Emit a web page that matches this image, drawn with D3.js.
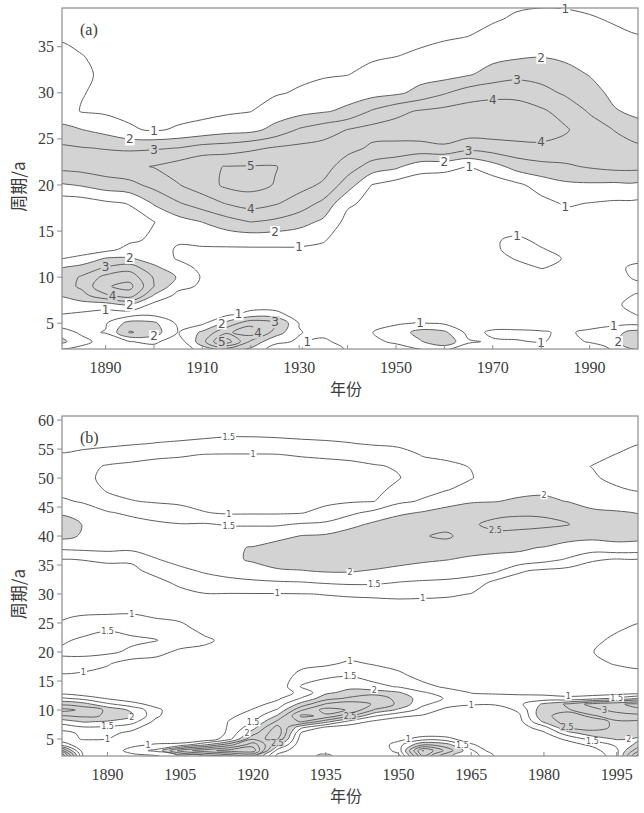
<!DOCTYPE html>
<html>
<head>
<meta charset="utf-8">
<script src="https://cdn.jsdelivr.net/npm/d3@7"></script>
<style>
  body { margin: 0; background: #fff; }
  svg text { font-family: "Liberation Serif", "Times New Roman", serif; fill: #3c3c3c; }
  svg text.clab { font-family: "DejaVu Sans", "Liberation Sans", sans-serif; fill: #555; }
  svg text.cjk { font-family: "Noto Sans CJK SC", sans-serif; }
</style>
</head>
<body>
<svg id="chart" width="644" height="813"></svg>
<script>
// ---- panel (a): wavelet power, period rows x year columns ----
const yearsA = [1880,1885,1890,1895,1900,1905,1910,1915,1920,1925,1930,1935,1940,1945,1950,1955,1960,1965,1970,1975,1980,1985,1990,1995,2000];
const periodsA = [2,3,4,5,6,7,8,9,10,11,12,13,14,16,18,20,22,24,26,28,30,32,34,36,38,40];
const levelsA = [1,2,3,4,5];
const powerA = [
  [0.7,2.4,1.7,0.4,1.05,1.5,2.02,2.3,2.3,1.9,0.95,0.6,0.4,0.3,0.35,1.8,3.3,3.2,2.2,1.6,1.4,1.3,1.2,0.95,0.8,0.7],
  [0.5,1.4,0.8,0.5,0.85,1.6,2.6,3.2,3.1,2.4,1.2,0.65,0.35,0.3,0.45,2.1,3.4,3.05,2.02,0.95,1.05,1.1,1.02,0.85,0.8,0.7],
  [0.4,0.5,1.05,0.9,0.6,1.5,3.8,4.9,4.3,3.1,2.1,0.7,0.4,0.3,0.8,2.5,3.6,2.95,1.65,0.85,0.8,0.9,0.85,0.8,0.75,0.7],
  [0.4,0.97,3.1,2.4,0.5,1.95,4.5,5.3,4.6,3.6,2.1,1.3,0.85,0.6,1.05,2.7,3.8,2.85,1.1,0.8,0.7,0.7,0.7,0.7,0.7,0.7],
  [0.5,1.2,2.5,2.2,0.7,0.7,1.9,3.02,2.9,2.2,1.6,1.6,1.15,0.98,2.1,3.3,4.05,2.9,0.9,0.75,0.7,0.7,0.7,0.7,0.7,0.7],
  [0.4,0.4,0.95,0.8,0.5,0.5,0.7,1.3,1.9,1.5,0.9,0.85,1.15,1.6,2.9,3.95,4.45,3.02,1.1,0.7,0.65,0.65,0.65,0.65,0.65,0.65],
  [1.3,2.6,2.2,0.8,0.5,0.5,0.6,0.85,0.9,0.7,0.6,0.9,1.2,2.02,3.5,4.5,4.9,3.4,1.3,0.75,0.7,0.65,0.65,0.65,0.65,0.65],
  [1.9,5.6,3.8,2.3,0.7,0.5,0.45,0.45,0.45,0.45,0.5,0.9,1.25,2.6,4.05,5.2,5.02,3.5,1.6,0.85,0.7,0.7,0.65,0.65,0.65,0.65],
  [1.6,2.8,4.6,3.7,1.3,0.5,0.45,0.45,0.45,0.45,0.5,0.9,1.3,3.02,4.4,5.35,5.05,3.8,1.7,0.98,0.75,0.7,0.65,0.65,0.65,0.65],
  [0.5,1.2,2.6,3.3,1.3,0.5,0.45,0.45,0.45,0.45,0.5,0.9,1.3,2.8,4.1,4.95,5.05,4.1,2.3,1.45,0.9,0.75,0.7,0.65,0.65,0.65],
  [0.9,0.9,1.05,0.95,0.5,0.45,0.45,0.45,0.45,0.45,0.5,0.9,1.25,2.4,3.55,4.35,4.6,4.25,3.1,1.65,1.1,0.8,0.75,0.7,0.65,0.65],
  [1.8,1.2,0.7,0.45,0.45,0.45,0.45,0.45,0.45,0.45,0.45,0.85,1.05,1.8,2.75,3.85,4.4,4.35,3.55,1.9,1.35,0.9,0.75,0.7,0.65,0.65],
  [0.9,0.6,0.5,0.45,0.45,0.45,0.45,0.45,0.45,0.45,0.45,0.6,0.65,0.7,1.15,2.5,3.5,4.3,4.02,2.2,1.6,0.97,0.8,0.7,0.65,0.65],
  [0.4,0.8,0.98,0.6,0.45,0.45,0.45,0.45,0.45,0.45,0.45,0.5,0.5,0.55,0.75,0.98,2.6,3.85,4.35,3.1,1.6,1.3,0.85,0.7,0.65,0.65],
  [0.5,1.15,1.4,0.9,0.5,0.45,0.45,0.45,0.45,0.45,0.45,0.45,0.45,0.45,0.5,0.55,2.2,3.75,4.4,3.75,1.8,1.45,0.98,0.75,0.7,0.65],
  [0.8,1.9,2.4,1.05,0.5,0.45,0.45,0.45,0.45,0.45,0.45,0.4,0.4,0.4,0.4,0.4,1.4,3.7,4.5,4.1,2.3,1.6,1.15,0.8,0.7,0.65],
  [0.9,2.8,2.2,0.85,0.45,0.45,0.45,0.45,0.45,0.45,0.45,0.4,0.4,0.35,0.3,0.35,1.3,3.85,4.55,4.3,2.9,1.6,1.3,0.93,0.75,0.7],
  [0.5,1.1,0.7,0.5,0.45,0.45,0.45,0.45,0.45,0.45,0.45,0.45,0.45,0.35,0.3,0.3,0.98,3.3,4.6,4.45,3.5,1.9,1.45,1.02,0.75,0.65],
  [0.4,0.9,1.15,0.6,0.45,0.45,0.45,0.45,0.45,0.45,0.75,0.9,0.92,0.5,0.35,0.4,1.6,3.5,4.55,4.5,3.7,2.4,1.7,1.25,0.92,0.75],
  [0.4,0.95,1.2,0.5,0.45,0.45,0.45,0.45,0.45,0.8,1.05,1.2,1.15,0.5,0.5,0.8,2.4,3.7,4.5,4.45,3.7,2.7,1.85,1.4,1.1,0.85],
  [0.4,1.05,1.1,0.5,0.45,0.45,0.45,0.45,0.7,1.02,1.15,1.05,0.85,0.55,0.7,1.4,2.7,3.8,4.4,4.15,3.35,2.6,1.95,1.45,1.15,0.9],
  [0.4,0.8,0.85,0.5,0.45,0.45,0.45,0.45,0.45,0.9,0.97,0.8,0.65,0.6,1.1,1.8,2.85,3.7,4.1,3.65,2.85,2.35,1.8,1.45,1.12,0.9],
  [0.5,1.05,1.2,0.6,0.5,0.5,0.45,0.45,0.45,0.45,0.45,0.5,0.5,0.55,0.97,1.85,3.1,3.6,3.5,2.9,2.4,1.95,1.6,1.3,1.05,0.85],
  [1.05,1.8,1.7,0.7,0.7,0.9,0.85,0.6,0.8,0.85,0.6,0.5,0.5,0.55,0.85,1.8,3.3,3.35,2.98,2.1,1.75,1.52,1.3,1.12,0.95,0.8],
  [1.9,2.9,2.4,0.7,1.05,1.2,1.05,0.85,1.1,1.15,0.85,0.5,0.5,0.55,0.8,1.8,3.3,3.2,2.4,1.75,1.5,1.3,1.15,1.02,0.9,0.8]
];
const labelsA = [
  [1,1900.5,25.8],[2,1899,24.7],[3,1898,23.6],[5,1921.8,22.2],[4,1918.7,17.3],[3,1920,16.0],[2,1922.5,14.9],[1,1930.7,13.5],
  [2,1978.5,33.7],[3,1972.8,31.2],[4,1969,29.3],[4,1980,24.6],[3,1963,24.1],[2,1960,23.0],[1,1966,21.9],
  [1,1983,39.1],[1,1984.7,17.7],[1,1975.8,14.6],
  [2,1894.5,12.1],[3,1891,11.3],[4,1891.2,7.9],[2,1893.7,6.9],[1,1888,6.7],[2,1897.7,3.7],
  [2,1913,5.0],[1,1915.5,5.4],[4,1921.2,4.6],[3,1923,5.0],[5,1913.6,3.2],[2,1917,2.8],
  [1,1932.8,3.9],[1,1955.5,5.0],[1,1979.5,3.4],[1,1992.6,4.3],[2,1997.4,3.7]
];
const xTicksA = [1890,1910,1930,1950,1970,1990];
const xMinorA = [1900,1920,1940,1960,1980];
const yTicksA = [5,10,15,20,25,30,35];

// ---- panel (b) ----
const yearsB = [1880,1885,1890,1895,1900,1905,1910,1915,1920,1925,1930,1935,1940,1945,1950,1955,1960,1965,1970,1975,1980,1985,1990,1995,2000];
const periodsB = [2,3,4,5,6,7,8,9,10,11,12,13,14,16,18,20,22,24,26,28,30,32,34,36,38,40,42,44,46,48,50,52,54,56,58,60,62];
const levelsB = [1,1.5,2,2.5,3,3.5,4,4.5];
const powerB = [
  [5.0,3.45,1.4,0.7,0.8,1.2,1.7,2.45,3.2,2.4,1.6,0.8,0.6, 0.95,1.3,1.6,1.4,1.1,0.95,0.75,0.65,0.7,0.8,0.98,1.6,2.15,2.25,1.95,1.58,1.35,1.25,1.3,1.47,1.65,1.75,1.8,1.8],
  [0.9,0.7,0.6,1.05,1.1,1.45,2.05,2.6,2.9,2.2,1.35,0.6,0.6, 0.9,1.25,1.65,1.6,1.3,1.05,0.75,0.65,0.7,0.8,1.02,1.65,1.95,1.98,1.75,1.45,1.25,1.1,1.15,1.4,1.62,1.75,1.8,1.8],
  [0.4,0.45,0.6,1.02,1.15,1.4,1.95,2.45,2.4,1.6,0.95,0.7,0.6, 0.8,1.05,1.6,1.7,1.45,1.08,0.75,0.65,0.7,0.85,1.08,1.7,1.85,1.8,1.55,1.15,0.95,0.9,0.95,1.3,1.6,1.75,1.8,1.8],
  [0.7,1.3,0.8,0.6,0.85,1.2,1.7,2.1,1.9,1.2,0.7,0.6,0.6, 0.7,0.75,1.4,1.6,1.35,1.1,0.75,0.65,0.7,0.85,1.1,1.65,1.75,1.7,1.4,1.02,0.85,0.8,0.88,1.2,1.55,1.72,1.78,1.8],
  [0.9,1.6,1.1,0.5,0.5,0.6,0.85,1.1,1.15,0.8,0.55,0.55,0.6, 0.65,0.8,1.15,1.52,1.3,0.97,0.7,0.65,0.8,1.2,1.48,1.7,1.72,1.58,1.3,0.95,0.8,0.75,0.82,1.1,1.49,1.7,1.78,1.8],
  [1.55,3.2,1.2,0.5,0.45,0.45,0.5,0.55,0.55,0.5,0.5,0.55,0.6, 0.6,0.65,0.9,1.25,1.15,0.9,0.7,0.8,1.15,1.4,1.65,1.8,1.75,1.52,1.2,0.9,0.75,0.72,0.8,1.05,1.45,1.68,1.75,1.78],
  [2.05,3.8,1.95,0.6,0.5,0.5,0.5,0.5,0.5,0.5,0.5,0.55,0.55, 0.55,0.6,0.85,1.1,0.85,0.7,0.75,0.98,1.3,1.55,1.75,1.88,1.8,1.55,1.02,0.85,0.7,0.68,0.75,0.98,1.4,1.65,1.75,1.78],
  [2.45,4.2,2.8,1.3,1.1,1.05,1.02,0.9,0.6,0.5,0.5,0.55,0.55, 0.55,0.6,0.8,0.85,0.75,0.7,0.8,0.98,1.35,1.7,1.92,1.95,1.85,1.45,0.95,0.8,0.68,0.65,0.72,0.97,1.35,1.62,1.72,1.76],
  [2.8,4.3,3.8,2.95,2.3,1.8,1.45,1.2,1.05,0.8,0.6,0.55,0.55, 0.55,0.6,0.7,0.7,0.65,0.7,0.8,0.98,1.4,1.85,2.05,2.02,1.8,1.45,0.95,0.8,0.68,0.65,0.72,0.97,1.35,1.62,1.72,1.76],
  [0.8,1.3,2.2,3.05,3.4,3.2,2.6,2.05,1.55,1.2,0.9,0.7,0.6, 0.6,0.6,0.6,0.6,0.6,0.7,0.8,0.98,1.45,1.95,2.2,2.2,1.85,1.45,0.95,0.8,0.7,0.65,0.72,0.98,1.38,1.63,1.72,1.76],
  [0.7,0.6,0.6,0.7,0.9,1.6,3.05,3.6,2.95,2.2,1.55,1.15,1.55, 1.2,0.8,0.6,0.6,0.6,0.75,0.85,0.99,1.48,1.98,2.3,2.3,2.02,1.55,0.98,0.82,0.72,0.68,0.75,1.05,1.42,1.65,1.73,1.76],
  [1.2,0.7,0.55,0.55,0.6,0.9,2.2,3.4,3.7,3.05,2.3,1.9,1.75, 1.4,0.9,0.7,0.6,0.6,0.8,0.9,1.01,1.55,2.05,2.35,2.35,2.07,1.6,1.15,0.9,0.75,0.7,0.8,1.1,1.45,1.66,1.74,1.77],
  [0.5,0.5,0.5,0.5,0.55,0.75,1.3,2.6,3.45,3.3,2.6,2.15,1.9, 1.45,1.1,0.7,0.6,0.6,0.75,0.85,1.05,1.6,2.05,2.4,2.45,2.25,1.85,1.4,0.95,0.8,0.75,0.85,1.15,1.49,1.67,1.74,1.77],
  [0.6,0.5,0.5,0.5,0.55,0.65,0.9,1.55,2.45,2.95,2.8,2.3,1.6, 1.35,0.95,0.6,0.55,0.55,0.7,0.8,1.1,1.58,1.95,2.35,2.45,2.4,2.1,1.65,0.99,0.85,0.8,0.95,1.25,1.55,1.68,1.75,1.77],
  [0.8,1.2,1.3,0.8,0.55,0.55,0.75,1.1,1.9,2.4,2.35,2.05,1.48, 1.15,0.75,0.55,0.5,0.5,0.7,0.8,1.15,1.49,1.85,2.2,2.45,2.45,2.3,1.9,1.4,1.15,0.97,1.05,1.35,1.58,1.7,1.76,1.78],
  [3.45,4.05,2.45,1.3,0.6,0.55,0.75,0.95,1.3,1.6,1.75,1.55,1.2, 0.75,0.55,0.5,0.5,0.5,0.65,0.8,1.12,1.45,1.75,2.1,2.4,2.48,2.4,2.05,1.55,1.35,1.3,1.38,1.52,1.62,1.7,1.76,1.78],
  [2.05,2.8,2.2,1.2,0.6,0.5,0.5,0.6,0.85,1.2,1.45,1.3,0.9, 0.55,0.5,0.5,0.5,0.5,0.6,0.75,1.1,1.42,1.72,2.02,2.35,2.55,2.4,2.2,1.8,1.48,1.42,1.45,1.55,1.63,1.7,1.76,1.78],
  [1.8,1.6,1.1,0.6,0.5,0.5,0.5,0.5,0.7,1.05,1.2,0.98,0.7, 0.5,0.5,0.5,0.5,0.5,0.6,0.75,0.98,1.35,1.65,1.92,2.2,2.35,2.45,2.3,1.95,1.65,1.48,1.51,1.56,1.63,1.7,1.76,1.78],
  [0.95,0.6,0.5,0.5,0.5,0.5,0.5,0.5,0.7,1.05,1.15,0.95,0.6, 0.5,0.5,0.5,0.5,0.5,0.55,0.65,0.75,0.85,1.6,1.85,2.15,2.4,2.6,2.4,1.98,1.8,1.7,1.65,1.65,1.68,1.72,1.76,1.78],
  [0.5,0.5,0.5,0.5,0.6,0.75,0.85,0.95,1.1,1.4,1.25,0.85,0.6, 0.5,0.5,0.5,0.5,0.5,0.55,0.6,0.7,0.8,1.05,1.9,2.05,2.35,2.62,2.45,2.08,1.85,1.75,1.7,1.7,1.7,1.72,1.76,1.78],
  [0.5,0.5,0.6,0.75,0.9,1.3,2.1,2.45,2.4,2.1,1.2,0.85,0.6, 0.5,0.55,0.6,0.6,0.55,0.55,0.6,0.65,0.75,0.9,1.7,1.98,2.3,2.58,2.45,2.1,1.9,1.8,1.75,1.75,1.75,1.75,1.77,1.78],
  [0.5,0.6,0.8,1.1,1.8,2.55,2.8,2.6,2.45,2.6,1.1,0.8,0.6, 0.55,0.65,0.75,0.7,0.6,0.55,0.6,0.65,0.7,0.82,1.45,1.85,2.15,2.52,2.35,1.98,1.8,1.65,1.6,1.65,1.7,1.73,1.76,1.78],
  [0.6,0.8,1.1,1.7,2.3,2.7,2.6,2.45,2.8,3.2,1.3,0.7,0.55, 0.6,0.85,0.99,0.9,0.75,0.6,0.6,0.65,0.7,0.8,1.05,1.8,2.1,2.2,2.08,1.85,1.7,1.55,1.49,1.58,1.66,1.72,1.75,1.77],
  [1.3,1.4,1.6,2.05,2.2,2.4,2.45,2.7,3.2,3.45,1.6,0.7,0.55, 0.7,1.05,1.15,1.1,0.95,0.7,0.65,0.65,0.7,0.8,0.98,1.9,2.1,2.15,2.05,1.75,1.55,1.4,1.38,1.49,1.6,1.68,1.73,1.76],
  [4.05,3.05,2.2,1.95,2.1,2.2,2.4,2.8,3.45,3.6,2.05,0.7,0.6, 0.85,1.12,1.2,1.18,1.1,0.9,0.7,0.65,0.7,0.8,0.97,1.85,2.1,2.1,1.98,1.7,1.45,1.3,1.25,1.35,1.51,1.62,1.7,1.74]
];
const labelsB = [
  [1.5,1916.3,57.2],[1,1919,54.3],[1,1916.3,43.4],[1.5,1916.3,41.3],[1,1924.5,30.0],
  [2,1979.4,46.8],[2.5,1971.2,41.3],[2,1938.9,33.7],[1.5,1942.7,31.6],[1,1956.8,29.1],
  [1,1895,26.8],[1.5,1891.6,23.4],[1,1884.7,16.2],
  [1,1940,18.1],[1.5,1937.6,15.5],[2,1943,13.8],[2.5,1939,9.2],[1,1964.3,11.2],
  [1,1984.6,12.3],[1.5,1996.6,12.3],[3,1993.8,11.5],[2.5,1984.2,6.9],[1.5,1990.4,4.6],[2,1996.6,4.6],
  [1.5,1890.9,8.0],[2,1894,8.0],[1,1888.8,6.6],[1,1898,4.3],[1.5,1899.5,3.3],
  [1.5,1919,8.0],[2,1922,5.5],[2.5,1926,3.8],[1,1952.5,5.0],[1.5,1962,2.8]
];
const xTicksB = [1890,1905,1920,1935,1950,1965,1980,1995];
const yTicksB = [5,10,15,20,25,30,35,40,45,50,55,60];

const svg = d3.select('#chart');
const lineColor = '#5e5e5e', shade = '#d3d3d3';

function drawPanel(cfg) {
  const box = cfg.box;
  const nx = cfg.years.length, ny = cfg.periods.length;
  const values = [];
  for (let j = 0; j < ny; j++) for (let i = 0; i < nx; i++) values.push(cfg.power[i][j]);

  const x = d3.scaleLinear().domain(cfg.xDomain).range([box.left, box.right]);
  const y = d3.scaleLinear().domain(cfg.yDomain).range([box.bottom, box.top]);
  // grid index -> year / period
  const gx = d3.scaleLinear().domain(d3.range(nx)).range(cfg.years);
  const gy = d3.scaleLinear().domain(d3.range(ny)).range(cfg.periods);
  const project = c => [
    c[0] <= 0 ? box.left - 40 : c[0] >= nx ? box.right + 40 : x(gx(c[0] - 0.5)),
    c[1] <= 0 ? box.bottom + 40 : c[1] >= ny ? box.top - 40 : y(gy(c[1] - 0.5))
  ];

  const bands = d3.contours().size([nx, ny]).thresholds(cfg.levels)(values);
  const ring = d3.line().curve(d3.curveCatmullRomClosed.alpha(0.5));
  const pathOf = mp => mp.coordinates.map(poly =>
    poly.map(r => ring(r.slice(0, -1).map(project))).join('')).join('');

  const clipId = 'clip-' + cfg.id;
  svg.append('clipPath').attr('id', clipId)
    .append('rect').attr('x', box.left).attr('y', box.top)
    .attr('width', box.right - box.left).attr('height', box.bottom - box.top);

  const g = svg.append('g').attr('clip-path', 'url(#' + clipId + ')');
  g.selectAll('path.fill')
    .data(bands.filter(b => b.value === 2))
    .enter().append('path')
    .attr('class', 'fill')
    .attr('d', pathOf)
    .attr('fill', shade)
    .attr('fill-rule', 'evenodd');
  g.selectAll('path.iso')
    .data(bands)
    .enter().append('path')
    .attr('class', 'iso')
    .attr('d', pathOf)
    .attr('fill', 'none')
    .attr('stroke', lineColor)
    .attr('stroke-width', 1);

  // contour labels: nearest free vertex of their isoline
  const lg = svg.append('g');
  const placed = [];
  cfg.labels.forEach(([v, yr, p]) => {
    const band = bands.find(b => b.value === v);
    if (!band) return;
    const tx = x(yr), ty = y(p);
    const txt = String(v);
    const w = txt.length * cfg.labelSize * 0.62 + 3, h = cfg.labelSize * 1.15;
    const cands = [];
    band.coordinates.forEach(poly => poly.forEach(r => r.forEach(c => {
      const q = project(c);
      if (q[0] < box.left + 3 || q[0] > box.right - 3 || q[1] < box.top - 1 || q[1] > box.bottom - 2) return;
      const d = Math.hypot(q[0] - tx, q[1] - ty);
      if (d < 22) cands.push([d, q]);
    })));
    cands.sort((a, b) => a[0] - b[0]);
    const free = q => placed.every(o =>
      Math.abs(o[0] - q[0]) > (o[2] + w) / 2 || Math.abs(o[1] - q[1]) > (o[3] + h) / 2);
    const hit = cands.find(c => free(c[1]));
    if (!hit) return;
    const q = hit[1];
    placed.push([q[0], q[1], w, h]);
    const t = lg.append('text')
      .attr('class', 'clab')
      .attr('x', q[0]).attr('y', q[1])
      .attr('dy', '0.36em')
      .attr('text-anchor', 'middle')
      .style('font-size', cfg.labelSize + 'px')
      .text(txt);
    const bb = t.node().getBBox();
    lg.insert('rect', () => t.node())
      .attr('x', bb.x - 1).attr('y', bb.y + 1)
      .attr('width', bb.width + 2).attr('height', bb.height - 2)
      .attr('fill', v > 2 ? shade : '#fff');
  });

  // frame
  svg.append('rect')
    .attr('x', box.left).attr('y', box.top)
    .attr('width', box.right - box.left).attr('height', box.bottom - box.top)
    .attr('fill', 'none').attr('stroke', '#8c8c8c').attr('stroke-width', 1.2);

  // y axis
  const ya = svg.append('g');
  cfg.yTicks.forEach(v => {
    ya.append('line').attr('x1', box.left - 5).attr('x2', box.left)
      .attr('y1', y(v)).attr('y2', y(v)).attr('stroke', '#8c8c8c');
    ya.append('text').attr('x', box.left - 8).attr('y', y(v)).attr('dy', '0.35em')
      .attr('text-anchor', 'end').style('font-size', '16px').text(v);
  });
  // x axis
  const xa = svg.append('g');
  cfg.xMinor.concat(cfg.xTicks).forEach(v => {
    xa.append('line').attr('x1', x(v)).attr('x2', x(v))
      .attr('y1', box.bottom).attr('y2', box.bottom - 4).attr('stroke', '#8c8c8c');
  });
  cfg.xTicks.forEach(v => {
    xa.append('text').attr('x', x(v)).attr('y', box.bottom + 24)
      .attr('text-anchor', 'middle').style('font-size', '16px').text(v);
  });

  // titles
  svg.append('text').attr('x', box.left + 18).attr('y', box.top + 27)
    .style('font-size', '16px').text(cfg.tag);
  svg.append('text').attr('class', 'cjk')
    .attr('transform', 'translate(25,' + ((box.top + box.bottom) / 2 + 8) + ') rotate(-90)')
    .attr('text-anchor', 'middle').style('font-size', '17px').text('周期/a');
  svg.append('text').attr('class', 'cjk')
    .attr('x', 346).attr('y', box.bottom + 46)
    .attr('text-anchor', 'middle').style('font-size', '16px').text('年份');
}

drawPanel({
  id: 'a', tag: '(a)',
  years: yearsA, periods: periodsA, power: powerA, levels: levelsA, labels: labelsA,
  xDomain: [1881, 2000], yDomain: [2.2, 39.2],
  box: { left: 62, top: 8, right: 638, bottom: 349 },
  xTicks: xTicksA, xMinor: xMinorA, yTicks: yTicksA, labelSize: 12
});
drawPanel({
  id: 'b', tag: '(b)',
  years: yearsB, periods: periodsB, power: powerB, levels: levelsB, labels: labelsB,
  xDomain: [1880.6, 1999.4], yDomain: [2.07, 60.7],
  box: { left: 62, top: 416, right: 638, bottom: 756 },
  xTicks: xTicksB, xMinor: [], yTicks: yTicksB, labelSize: 8
});
</script>
</body>
</html>
